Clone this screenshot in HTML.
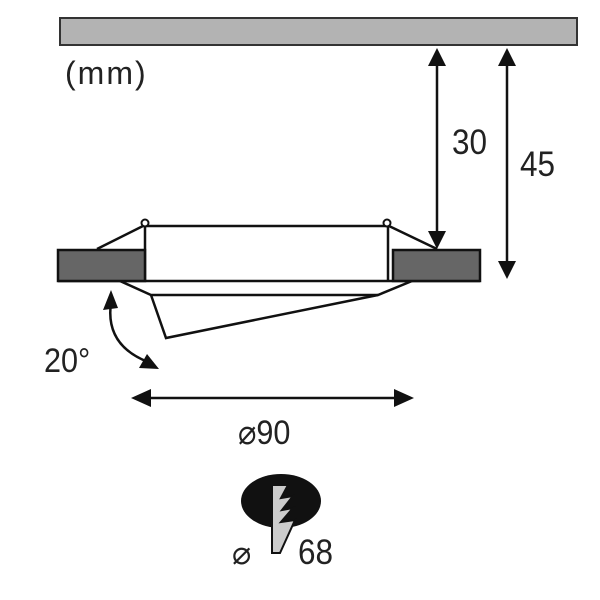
<!DOCTYPE html>
<html><head><style>body{margin:0;background:#fff}svg{display:block}</style></head><body>
<svg width="600" height="600" viewBox="0 0 600 600" font-family="'Liberation Sans', sans-serif">
<rect x="60" y="18" width="517" height="27" fill="#b3b3b3" stroke="#333" stroke-width="2"/>
<text x="65" y="84" font-size="32" fill="#222" letter-spacing="2">(mm)</text>
<g stroke="#111" stroke-width="2.5" fill="none">
<line x1="437" y1="60" x2="437" y2="234"/>
<line x1="507" y1="60" x2="507" y2="265"/>
<line x1="148" y1="398" x2="398" y2="398"/>
<polyline points="97,249 143,226 389,226 437,249"/>
<line x1="58" y1="281" x2="480" y2="281"/>
<polyline points="120,281 151,295 378,295 412,281"/>
<polyline points="151,295 166,338 378,295"/>
<line x1="145" y1="227" x2="145" y2="281"/>
<line x1="388" y1="227" x2="388" y2="281"/>
<path d="M111,303 Q105,345 148,362"/>
</g>
<circle cx="145" cy="223" r="3.5" fill="#fff" stroke="#111" stroke-width="2"/>
<circle cx="387" cy="223" r="3.5" fill="#fff" stroke="#111" stroke-width="2"/>
<rect x="58" y="250" width="87" height="31" fill="#666" stroke="#111" stroke-width="2.5"/>
<rect x="393" y="250" width="87" height="31" fill="#666" stroke="#111" stroke-width="2.5"/>
<g fill="#111">
<polygon points="437,48 428,66 446,66"/><polygon points="437,249 428,231 446,231"/>
<polygon points="507,48 498,66 516,66"/><polygon points="507,279 498,261 516,261"/>
<polygon points="131,398 151,389 151,407"/><polygon points="414,398 394,389 394,407"/>
<polygon points="111,290 103,310 118,308"/>
<polygon points="159,369 139,368 147,354"/>
<ellipse cx="281" cy="501" rx="40" ry="27"/>
</g>
<text x="452" y="154" font-size="35" fill="#222" transform="translate(452 154) scale(0.9 1) translate(-452 -154)">30</text>
<text x="520" y="176" font-size="35" fill="#222" transform="translate(520 176) scale(0.9 1) translate(-520 -176)">45</text>
<text x="44" y="372" font-size="34" fill="#222" transform="translate(44 372) scale(0.9 1) translate(-44 -372)">20°</text>
<text x="238" y="444" font-size="34" fill="#222" transform="translate(238 444) scale(0.9 1) translate(-238 -444)">⌀90</text>
<polygon points="272,485 288,485 281,498 293,496 282,510 293,508 281,522 295,520 280,553 272,553" fill="#ccc" stroke="#111" stroke-width="2"/>
<text x="232" y="564" font-size="32" fill="#222">⌀</text>
<text x="298" y="564" font-size="35" fill="#222" transform="translate(298 564) scale(0.9 1) translate(-298 -564)">68</text>
</svg>
</body></html>
